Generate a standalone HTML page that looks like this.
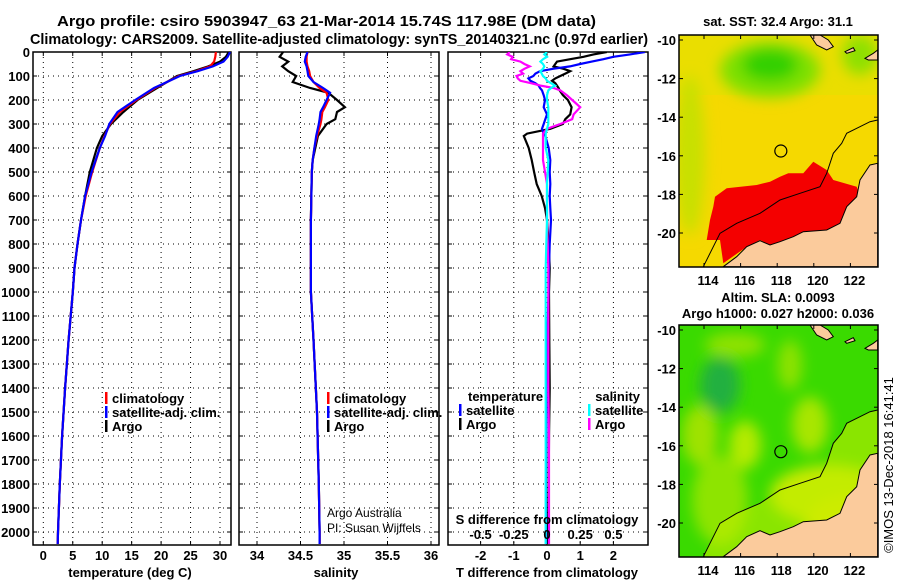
<!DOCTYPE html>
<html><head><meta charset="utf-8">
<style>
html,body{margin:0;padding:0;background:#fff;}
svg{display:block;font-family:"Liberation Sans",Arial,sans-serif;}
.b{font-weight:bold;}
</style></head>
<body>
<svg id="fig" width="900" height="580" viewBox="0 0 900 580" xmlns="http://www.w3.org/2000/svg">
<defs>
<filter id="blur6"><feGaussianBlur stdDeviation="7"/></filter>
<clipPath id="clipTop"><rect x="679" y="35" width="199" height="232"/></clipPath>
<clipPath id="clipBot"><rect x="679" y="325" width="199" height="232"/></clipPath>
<clipPath id="cp1"><rect x="33" y="52" width="198" height="493"/></clipPath>
<clipPath id="cp2"><rect x="239" y="52" width="200" height="493"/></clipPath>
<clipPath id="cp3"><rect x="448" y="52" width="200" height="493"/></clipPath>
</defs>
<text x="57" y="26" textLength="539" lengthAdjust="spacingAndGlyphs" class="b" font-size="15">Argo profile: csiro 5903947_63 21-Mar-2014 15.74S 117.98E (DM data)</text>
<text x="30" y="44" textLength="618" lengthAdjust="spacingAndGlyphs" class="b" font-size="15">Climatology: CARS2009. Satellite-adjusted climatology: synTS_20140321.nc (0.97d earlier)</text>
<g id="panels"></g>
<g id="maps"></g>
</svg>
<script>
// ---------- data ----------
const depthTicks = [0,100,200,300,400,500,600,700,800,900,1000,1100,1200,1300,1400,1500,1600,1700,1800,1900,2000];
const tempTicks = [0,5,10,15,20,25,30];
const salTicks = [34,34.5,35,35.5,36];
const tdiffTicks = [-2,-1,0,1,2];
const sdiffTicks = [-0.5,-0.25,0,0.25,0.5];
const sdiffTickLabels = ["-0.5","-0.25","0","0.25","0.5"];

const tDepth = [0,20,40,60,80,100,125,150,200,250,300,350,400,500,600,700,800,900,1000,1200,1400,1600,1800,2000,2050];
const tArgo  = [31.5,31.0,30.0,28.0,25.5,22.7,21.0,19.3,16.0,13.6,11.5,10.0,9.1,7.9,7.1,6.4,5.8,5.3,5.0,4.3,3.7,3.2,2.8,2.5,2.45];
const tClim  = [29.3,29.2,29.0,28.3,26.0,23.0,21.0,19.0,15.8,13.0,11.3,10.4,9.6,8.3,7.2,6.4,5.8,5.3,5.0,4.3,3.7,3.2,2.8,2.5,2.45];
const tSat   = [31.7,31.3,30.6,28.8,26.2,23.2,21.0,18.8,15.6,12.6,11.2,10.5,9.6,8.2,7.1,6.4,5.8,5.3,5.0,4.3,3.7,3.2,2.8,2.5,2.45];

const sDepth = [0,20,40,60,80,100,125,150,170,200,230,250,280,300,350,400,450,500,700,1000,1200,1500,1800,2000,2050];
const sArgo  = [34.30,34.26,34.36,34.29,34.36,34.45,34.41,34.61,34.82,34.92,35.01,34.92,34.90,34.80,34.70,34.67,34.64,34.63,34.62,34.62,34.65,34.69,34.71,34.72,34.72];
const sClim  = [34.58,34.57,34.57,34.58,34.60,34.61,34.65,34.72,34.80,34.82,34.78,34.75,34.74,34.73,34.69,34.66,34.64,34.63,34.62,34.62,34.65,34.69,34.71,34.72,34.72];
const sSat   = [34.58,34.56,34.55,34.57,34.58,34.59,34.65,34.76,34.84,34.80,34.76,34.73,34.72,34.71,34.68,34.66,34.64,34.63,34.62,34.62,34.65,34.69,34.71,34.72,34.72];

const dDepth   = [0,10,20,30,40,50,60,70,80,90,100,110,120,130,140,150,160,180,200,230,260,280,300,320,340,350,400,450,500,550,600,650,700,800,900,1000,1200,1400,1600,1800,2000,2050];
const tdiffArgo = [1.8,1.4,1.1,0.7,0.3,0.25,0.2,0.5,0.7,0.55,0.4,0.25,0.15,0.25,0.3,0.35,0.38,0.48,0.63,0.74,0.7,0.55,0.48,0.1,-0.6,-0.7,-0.55,-0.46,-0.39,-0.31,-0.16,-0.06,0,0.05,0.08,0.06,0.07,0.08,0.06,0.05,0.03,0.03];
const tdiffSat  = [2.95,2.5,2.0,1.7,1.35,1.0,0.69,0.18,-0.21,-0.35,-0.41,-0.56,-0.5,-0.35,-0.25,-0.21,-0.15,-0.1,-0.06,-0.1,0,-0.05,-0.1,-0.15,-0.1,-0.05,0.05,0.1,0.08,0.1,0.08,0.1,0.12,0.08,0.06,0.05,0,-0.02,-0.02,-0.03,-0.03,-0.03];
const sdiffArgo = [-0.28,-0.3,-0.26,-0.27,-0.2,-0.17,-0.13,-0.17,-0.2,-0.18,-0.23,-0.22,-0.2,-0.12,-0.05,0.05,0.1,0.15,0.19,0.25,0.2,0.19,0.1,0,-0.03,-0.03,-0.03,-0.03,-0.015,0,0,0,0,0.005,0.01,0.01,0.01,0.01,0.015,0.015,0.015,0.015];
const sdiffSat  = [0,-0.02,0,-0.03,-0.05,-0.03,-0.02,-0.03,-0.05,-0.04,-0.03,-0.01,0,0.03,0.06,0.03,0.01,0,0,0.01,0.01,0.01,0.01,0,-0.01,-0.01,-0.01,0.01,0.005,0,0,0,0,-0.005,-0.01,-0.01,-0.01,-0.01,-0.01,-0.01,-0.01,-0.01];

// ---------- helpers ----------
const NS = "http://www.w3.org/2000/svg";
const panels = document.getElementById('panels');
function mk(tag, attrs, parent){ const e=document.createElementNS(NS,tag); for(const k in attrs) e.setAttribute(k,attrs[k]); (parent||panels).appendChild(e); return e; }
function txt(x,y,s,size,anchor,bold,parent){ const t=mk('text',{x:x,y:y,'font-size':size,'text-anchor':anchor||'start','font-weight':bold?'bold':'normal'},parent); t.textContent=s; return t; }

const TOP=52, BOT=545;
const yD = d => TOP + d*0.2400;
const xT = t => 43.3 + t*5.89;
const xS = s => 257 + (s-34)*87;
const xTd = t => 547 + t*33.2;
const xSd = s => 547 + s*132.8;

function panelFrame(x0,x1,name,xticks,xf){
  const g = mk('g',{});
  
  
  depthTicks.forEach(d=>{ const y=yD(d); if(y>TOP+1) mk('line',{x1:x0,x2:x1,y1:y,y2:y,stroke:'#000','stroke-width':1,'stroke-dasharray':'1,4'},g);
    mk('line',{x1:x0,x2:x0+4,y1:y,y2:y,stroke:'#000'},g); mk('line',{x1:x1-4,x2:x1,y1:y,y2:y,stroke:'#000'},g); });
  xticks.forEach(v=>{ const x=xf(v); mk('line',{x1:x,x2:x,y1:TOP,y2:BOT,stroke:'#000','stroke-width':1,'stroke-dasharray':'1,4'},g);
    mk('line',{x1:x,x2:x,y1:BOT-4,y2:BOT,stroke:'#000'},g); mk('line',{x1:x,x2:x,y1:TOP,y2:TOP+4,stroke:'#000'},g); });
  mk('rect',{x:x0,y:TOP,width:x1-x0,height:BOT-TOP,fill:'none',stroke:'#000','stroke-width':1.5},g);
  return g;
}
function series(xs,ds,xf,color,name,clip,w){
  const pts = ds.map((d,i)=>xf(xs[i]).toFixed(1)+','+yD(d).toFixed(1)).join(' ');
  const p = mk('polyline',{points:pts,fill:'none',stroke:color,'stroke-width':w||2.2,'clip-path':'url(#'+clip+')'});
  
  
  return p;
}
function legendEntry(x,y,color,label,name){
  const g = mk('g',{});
  
  
  mk('rect',{x:x,y:y-11,width:2.5,height:12,fill:color},g);
  txt(x+7,y,label,13,'start',true,g);
  return g;
}

// ---------- panel 1: temperature ----------
panelFrame(33,231,'temperature-panel',tempTicks,xT);
depthTicks.forEach(d=>{ const t=txt(30,yD(d)+5,String(d),13,'end',true);   });
tempTicks.forEach(v=>{ const t=txt(xT(v),560,String(v),13,'middle',true);   });
const xl1 = txt(130,577,'temperature (deg C)',13,'middle',true);


series(tArgo,tDepth,xT,'#000','temperature-argo-line','cp1');
series(tClim,tDepth,xT,'#f00','temperature-climatology-line','cp1');
series(tSat,tDepth,xT,'#00f','temperature-satellite-line','cp1');
legendEntry(105,403,'#f00','climatology','legend-climatology');
legendEntry(105,417,'#00f','satellite-adj. clim.','legend-satellite-adj');
legendEntry(105,431,'#000','Argo','legend-argo');

// ---------- panel 2: salinity ----------
panelFrame(239,439,'salinity-panel',salTicks,xS);
salTicks.forEach(v=>{ const t=txt(xS(v),560,String(v),13,'middle',true);   });
const xl2 = txt(336,577,'salinity',13,'middle',true);


series(sArgo,sDepth,xS,'#000','salinity-argo-line','cp2');
series(sClim,sDepth,xS,'#f00','salinity-climatology-line','cp2');
series(sSat,sDepth,xS,'#00f','salinity-satellite-line','cp2');
legendEntry(327,403,'#f00','climatology','legend-sal-climatology');
legendEntry(327,417,'#00f','satellite-adj. clim.','legend-sal-satellite-adj');
legendEntry(327,431,'#000','Argo','legend-sal-argo');
const cr1 = txt(327,517,'Argo Australia',12,'start',false);


const cr2 = txt(327,532,'PI: Susan Wijffels',12,'start',false);



// ---------- panel 3: differences ----------
panelFrame(448,648,'difference-panel',tdiffTicks,xTd);
tdiffTicks.forEach(v=>{ const t=txt(xTd(v),560,String(v),13,'middle',true);   });
const xl3 = txt(547,577,'T difference from climatology',13,'middle',true);


series(tdiffArgo,dDepth,xTd,'#000','tdiff-argo-line','cp3');
series(tdiffSat,dDepth,xTd,'#00f','tdiff-satellite-line','cp3');
series(sdiffArgo,dDepth,xSd,'#f0f','sdiff-argo-line','cp3');
series(sdiffSat,dDepth,xSd,'#0ff','sdiff-satellite-line','cp3');
const sdt = txt(547,524,'S difference from climatology',13,'middle',true);


sdiffTicks.forEach((v,i)=>{ const t=txt(xSd(v),539,sdiffTickLabels[i],13,'middle',true);   });
const lt = txt(468,401,'temperature',13,'start',true);


legendEntry(459,415,'#00f','satellite','legend-tdiff-satellite');
legendEntry(459,429,'#000','Argo','legend-tdiff-argo');
const ls = txt(640,401,'salinity',13,'end',true);


legendEntry(588,415,'#0ff','satellite','legend-sdiff-satellite');
legendEntry(588,429,'#f0f','Argo','legend-sdiff-argo');

// ---------- maps ----------
const maps = document.getElementById('maps');
const mapLons = [114,116,118,120,122];
const mapLats = [-10,-12,-14,-16,-18,-20];
const mx = lon => 708 + (lon-114)*18.3;
function zp(arr,ox,oy){ return arr.map(p=>(ox+p[0]/3).toFixed(1)+','+(oy+p[1]/3).toFixed(1)).join(' '); }
const landPts=[[190,800],[230,770],[260,740],[300,722],[330,735],[360,725],[400,710],[430,695],[500,690],[540,670],[560,620],[590,590],[600,540],[630,495],[653,490],[653,800]];
const shelfPts=[[130,800],[180,700],[230,670],[300,640],[360,600],[420,580],[480,560],[500,520],[520,460],[545,430],[560,400],[600,380],[630,365],[653,360]];
const redPts=[[140,720],[150,660],[160,620],[165,590],[200,565],[290,555],[330,545],[360,530],[385,520],[430,520],[460,485],[500,510],[520,540],[590,560],[600,590],[560,620],[540,670],[500,690],[430,695],[400,710],[330,735],[300,720],[260,740],[190,790],[180,720]];

function drawMap(oy, top, kind, name){
  const g = mk('g',{},maps);
  
  
  const clip = kind==='sst'?'clipTop':'clipBot';
  const inner = mk('g',{'clip-path':'url(#'+clip+')'},g);
  if(kind==='sst'){
    mk('rect',{x:679,y:top,width:199,height:232,fill:'#f5d900'},inner);
    mk('rect',{x:679,y:top,width:199,height:60,fill:'#e6e000',opacity:0.7},inner);
    const gb = mk('g',{filter:'url(#blur6)'},inner);
    mk('ellipse',{cx:770,cy:top+35,rx:50,ry:28,fill:'#7ee000'},gb);
    mk('ellipse',{cx:770,cy:top+30,rx:28,ry:16,fill:'#33d000'},gb);
    mk('ellipse',{cx:860,cy:top+20,rx:18,ry:20,fill:'#8ee000'},gb);
    mk('ellipse',{cx:690,cy:top+120,rx:15,ry:80,fill:'#c8e000'},gb);
    mk('polygon',{points:zp(redPts,660,0),fill:'#f40000'},inner);
  } else {
    mk('rect',{x:679,y:top,width:199,height:232,fill:'#3ada00'},inner);
    const gb = mk('g',{filter:'url(#blur6)'},inner);
    mk('ellipse',{cx:720,cy:top+175,rx:28,ry:45,fill:'#8ee400'},gb);
    mk('ellipse',{cx:745,cy:top+120,rx:16,ry:24,fill:'#b4ea00'},gb);
    mk('ellipse',{cx:810,cy:top+100,rx:18,ry:28,fill:'#a8e600'},gb);
    mk('ellipse',{cx:735,cy:top+20,rx:30,ry:12,fill:'#90e200'},gb);
    mk('ellipse',{cx:790,cy:top+40,rx:12,ry:25,fill:'#8ee200'},gb);
    mk('ellipse',{cx:720,cy:top+60,rx:20,ry:28,fill:'#22b040'},gb);
    mk('ellipse',{cx:830,cy:top+170,rx:60,ry:30,fill:'#c8ea00'},gb);
    mk('ellipse',{cx:850,cy:top+200,rx:45,ry:30,fill:'#e0ea00'},gb);
    mk('ellipse',{cx:700,cy:top+110,rx:18,ry:30,fill:'#9ee200'},gb);
    mk('polygon',{points:zp(shelfPts.concat([[653,800],[130,800]]),660,oy),fill:'#c0ec00',opacity:0.6},inner);
  }
  mk('polygon',{points:zp(landPts,660,oy),fill:'#fbcb9c',stroke:'#000','stroke-width':1},inner);
  mk('polygon',{points:zp([[450,105],[470,135],[500,150],[520,140],[505,120],[480,105]],660,oy),fill:'#fbcb9c',stroke:'#000'},inner);
  mk('polygon',{points:zp([[555,155],[580,143],[585,152],[560,160]],660,oy),fill:'#fbcb9c',stroke:'#000'},inner);
  mk('polygon',{points:zp([[615,175],[640,160],[653,150],[653,180],[625,180]],660,oy),fill:'#fbcb9c',stroke:'#000'},inner);
  mk('polyline',{points:zp(shelfPts,660,oy),fill:'none',stroke:'#000','stroke-width':1},inner);
  const cy = oy + (kind==='sst'?453/3:485/3);
  const c = mk('circle',{cx:mx(117.98),cy:cy,r:6,fill:'none',stroke:'#000','stroke-width':1.2},g);
  
  
  mk('rect',{x:679,y:top,width:199,height:232,fill:'none',stroke:'#000','stroke-width':1.5},g);
  const lat0 = top + 5;
  mapLats.forEach(l=>{ const y = lat0 + (-10-l)*19.3;
    mk('line',{x1:679,x2:683,y1:y,y2:y,stroke:'#000'},g); mk('line',{x1:874,x2:878,y1:y,y2:y,stroke:'#000'},g);
    const t=txt(676,y+5,String(l),13,'end',true,g);   });
  mapLons.forEach(l=>{ const x=mx(l)-4;
    mk('line',{x1:x,x2:x,y1:top,y2:top+4,stroke:'#000'},g); mk('line',{x1:x,x2:x,y1:top+228,y2:top+232,stroke:'#000'},g);
    const t=txt(mx(l),top+250,String(l),13,'middle',true,g);   });
}
drawMap(0,35,'sst','sst-map');
drawMap(290,325,'sla','sla-map');
const mt1 = txt(778,26,'sat. SST: 32.4 Argo: 31.1',13,'middle',true,maps);


const mt2 = txt(778,302,'Altim. SLA: 0.0093',13,'middle',true,maps);


const mt3 = txt(778,318,'Argo h1000: 0.027 h2000: 0.036',13,'middle',true,maps);


const stamp = txt(0,0,'©IMOS 13-Dec-2018 16:41:41',13,'middle',false,maps);
stamp.setAttribute('transform','translate(893,465) rotate(-90)');


</script>
</body></html>
